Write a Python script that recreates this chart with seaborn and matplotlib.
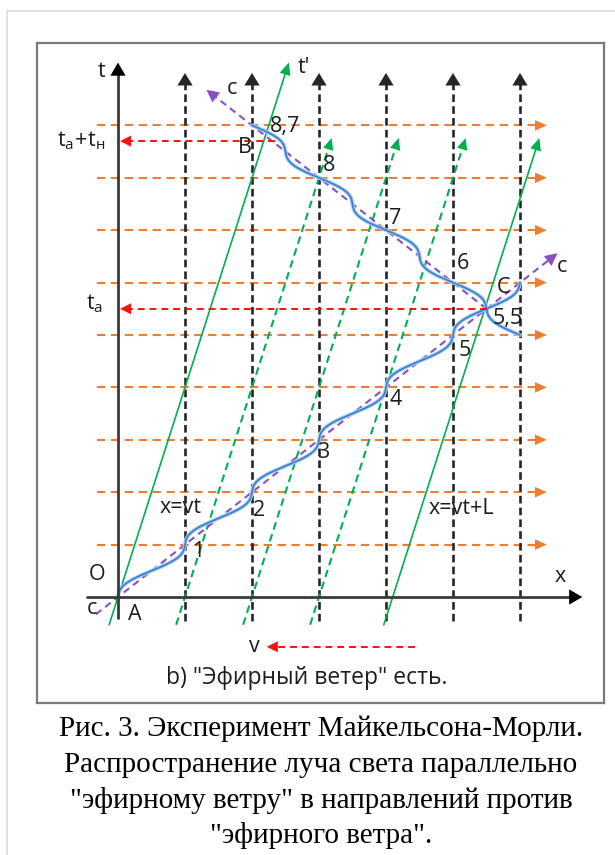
import matplotlib

matplotlib.use("Agg")

import matplotlib.pyplot as plt
import numpy as np
import pandas as pd
import seaborn as sns
from matplotlib.lines import Line2D


# --- diagram values (units: x in "cells", t in "cells", c = 1) ---
V_LINES_X = [1, 2, 3, 4, 5, 6]          # fixed ether points (black dashed)
H_LINES_T = [1, 2, 3, 4, 5, 6, 7, 8, 9]  # time levels (orange dashed)
GHOST_X0 = [1, 2, 3]                     # moving-frame points (green dashed)
MIRROR_X0 = [0.0, 4.1]                   # x=vt and x=vt+L (green solid)
V_ETHER = 0.25
T_C = 5.5   # reflection at C
T_B = 8.7   # return to B
OUT_LABELS = ["1", "2", "3", "4", "5"]
BACK_LABELS = ["6", "7", "8"]
CAPTION = [
    "Рис. 3. Эксперимент Майкельсона-Морли.",
    "Распространение луча света параллельно",
    "\"эфирному ветру\" в направлений против",
    "\"эфирного ветра\".",
]

# pixel layout of the drawing (origin A and scale)
W, H = 615, 855
OX, OY = 118, 597
PX_X, PX_T = 67.0, 52.4

ORANGE = "#ED7D31"
GREEN = "#00B050"
PURPLE = "#8650C0"
BLUE = "#3580D0"
RED = "#FF1010"
BLACK = "#262626"
TEXT = "#1c1c1c"


def segments_df(segs):
    rows = []
    for i, pts in enumerate(segs):
        for x, t in pts:
            rows.append({"id": i, "x": x, "t": t})
    return pd.DataFrame(rows)


def draw(ax, segs, **kws):
    sns.lineplot(data=segments_df(segs), x="x", y="t", units="id",
                 estimator=None, sort=False, legend=False, ax=ax, **kws)


def head(ax, tip, frm, color, length, width):
    ax.annotate("", xy=tip, xytext=frm,
                arrowprops=dict(arrowstyle=f"-|>,head_length={length},head_width={width}",
                                color=color, lw=0, shrinkA=0, shrinkB=0,
                                mutation_scale=10))


def wave(s, base):
    # light drawn as a wavy path around the straight ray
    amp = 0.88 / (2 * np.pi)
    return base - amp * np.sin(2 * np.pi * s)


sns.set_style("white")
plt.rcParams["font.family"] = ["Open Sans", "DejaVu Sans"]
plt.rcParams["lines.scale_dashes"] = False

fig = plt.figure(figsize=(W / 100, H / 100), dpi=100)
ax = fig.add_axes([37 / W, 1 - 703 / H, (604 - 37) / W, (703 - 43) / H])

# orange time levels
draw(ax, [[(-0.32, t), (6.3, t)] for t in H_LINES_T],
     color=ORANGE, lw=1.5, linestyle=(0, (6, 4)))
for t in H_LINES_T:
    head(ax, (6.4, t), (6.0, t), ORANGE, 0.85, 0.38)

# black dashed verticals
draw(ax, [[(x, -0.45), (x, 9.85)] for x in V_LINES_X],
     color=BLACK, lw=1.9, linestyle=(0, (5.5, 3)))
for x in V_LINES_X:
    head(ax, (x, 10.0), (x, 9.5), BLACK, 0.9, 0.55)

# green lines of the moving frame
t_lo = -0.53
draw(ax, [[(x0 + V_ETHER * t_lo, t_lo), (x0 + V_ETHER * 8.6, 8.6)] for x0 in GHOST_X0],
     color=GREEN, lw=1.5, linestyle=(0, (5.5, 3.5)))
for x0 in GHOST_X0:
    head(ax, (x0 + V_ETHER * 8.76, 8.76), (x0 + V_ETHER * 8.0, 8.0), GREEN, 0.85, 0.38)
tops = [10.2, 8.76]
draw(ax, [[(x0 + V_ETHER * t_lo, t_lo), (x0 + V_ETHER * (tt - 0.1), tt - 0.1)]
          for x0, tt in zip(MIRROR_X0, tops)],
     color=GREEN, lw=1.2, linestyle="-")
for x0, tt in zip(MIRROR_X0, tops):
    head(ax, (x0 + V_ETHER * tt, tt), (x0 + V_ETHER * (tt - 0.8), tt - 0.8), GREEN, 0.9, 0.4)

# purple straight rays
draw(ax, [[(-0.33, -0.33), (6.45, 6.45)], [(T_C, T_C), (2 * T_C - 9.55, 9.55)]],
     color=PURPLE, lw=1.5, linestyle=(0, (5, 3.5)))
head(ax, (6.56, 6.56), (6.0, 6.0), PURPLE, 0.9, 0.45)
head(ax, (2 * T_C - 9.68, 9.68), (2 * T_C - 9.1, 9.1), PURPLE, 0.9, 0.45)

# blue wavy light path
s_out = np.linspace(0, 6, 400)
s_back = np.linspace(5, 9, 300)
light = [list(zip(wave(s_out, s_out), s_out)),
         list(zip(wave(s_back, 2 * T_C - s_back), s_back))]
draw(ax, light, color="#A9CBEF", lw=2.8, linestyle="-")
draw(ax, light, color=BLUE, lw=1.2, linestyle="-")

# red time markers
x_b = 2 * T_C - T_B + 0.05
draw(ax, [[(T_C, T_C), (0.12, T_C)], [(x_b, T_B), (0.12, T_B)], [(4.43, -0.95), (2.35, -0.95)]],
     color=RED, lw=1.4, linestyle=(0, (5, 3.5)))
head(ax, (0.03, T_C), (0.6, T_C), RED, 0.8, 0.4)
head(ax, (0.03, T_B), (0.6, T_B), RED, 0.8, 0.4)
head(ax, (2.22, -0.95), (2.8, -0.95), RED, 0.8, 0.4)

# axes of the diagram
draw(ax, [[(0, -0.4), (0, 10.0)], [(-0.47, 0), (6.75, 0)]],
     color="#3a3a3a", lw=2.0, linestyle="-")
head(ax, (0, 10.2), (0, 9.6), "black", 0.95, 0.55)
head(ax, (6.93, 0), (6.3, 0), "black", 0.95, 0.55)

fs = 15.5
labels = [
    ("t", -0.25, 10.02), ("t'", 2.78, 10.1), ("c", 1.70, 9.71),
    ("8,7", 2.49, 8.97), ("B", 1.90, 8.57), ("C", 5.75, 5.90),
    ("5,5", 5.82, 5.31), ("c", 6.63, 6.30), ("x=vt", 0.93, 1.70),
    ("x=vt+L", 5.12, 1.68), ("O", -0.31, 0.42), ("c", -0.39, -0.21),
    ("A", 0.25, -0.34), ("x", 6.6, 0.40), ("v", 2.04, -0.95),
]
for s, x, t in labels:
    ax.text(x, t, s, ha="center", va="center", fontsize=fs, color=TEXT)

out_pos = [(1.19, 0.86), (2.1, 1.65), (3.06, 2.75), (4.15, 3.76), (5.18, 4.71)]
back_pos = [(5.15, 6.37), (4.13, 7.23), (3.15, 8.23)]
for s, (x, t) in zip(OUT_LABELS + BACK_LABELS, out_pos + back_pos):
    ax.text(x, t, s, ha="center", va="center", fontsize=fs, color=TEXT)

ax.text(-0.18, T_B, r"$\mathregular{t_а\!+\!t_н}$", ha="right", va="center",
        fontsize=fs, color=TEXT)
ax.text(-0.22, T_C + 0.1, r"$\mathregular{t_а}$", ha="right", va="center",
        fontsize=fs, color=TEXT)
ax.text(2.82, -1.55, "b) \"Эфирный ветер\" есть.", ha="center", va="center",
        fontsize=16.5, color=TEXT)

ax.set_xlim((37 - OX) / PX_X, (604 - OX) / PX_X)
ax.set_ylim((OY - 703) / PX_T, (OY - 43) / PX_T)
ax.set_xticks([])
ax.set_yticks([])
ax.set_xlabel("")
ax.set_ylabel("")
for sp in ax.spines.values():
    sp.set_color("#7a7a7a")
    sp.set_linewidth(1.6)

# light page border
fig.add_artist(Line2D([7 / W, 7 / W], [0, 1 - 11 / H], color="#dcdcdc", lw=1.2))
fig.add_artist(Line2D([7 / W, 1], [1 - 11 / H, 1 - 11 / H], color="#dcdcdc", lw=1.2))

for i, line in enumerate(CAPTION):
    fig.text(321 / W, 1 - (729 + 35.5 * i) / H, line, ha="center", va="center",
             fontsize=21, family="Liberation Serif", color="black")

fig.savefig("out.png", dpi=100)
